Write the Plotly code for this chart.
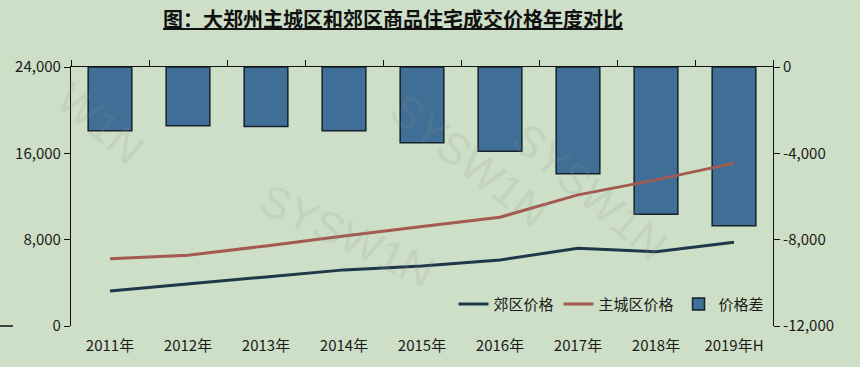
import plotly.graph_objects as go

years = ["2011年", "2012年", "2013年", "2014年", "2015年", "2016年", "2017年", "2018年", "2019年H"]
suburb_price = [3250, 3870, 4550, 5200, 5570, 6120, 7210, 6890, 7760]
core_price = [6240, 6560, 7420, 8350, 9210, 10080, 12150, 13540, 15090]
price_gap = [-2950, -2720, -2760, -2950, -3510, -3900, -4950, -6820, -7350]

left_ticks = [0, 8000, 16000, 24000]
right_ticks = [0, -4000, -8000, -12000]

BG = "#cedfc7"
FONT = "Noto Sans CJK SC"
TXT = "#1a1a1a"

fig = go.Figure()

fig.add_trace(go.Bar(
    x=years, y=price_gap, name="价格差", xaxis="x", yaxis="y",
    width=0.56,
    marker=dict(color="#3f6e96", line=dict(color="#17222c", width=1.5)),
))
fig.add_trace(go.Scatter(
    x=years, y=suburb_price, name="郊区价格", mode="lines", xaxis="x2", yaxis="y2",
    line=dict(color="#1f3848", width=3),
))
fig.add_trace(go.Scatter(
    x=years, y=core_price, name="主城区价格", mode="lines", xaxis="x2", yaxis="y2",
    line=dict(color="#a35a50", width=3),
))

fig.data[0].legendrank = 3
fig.data[1].legendrank = 1
fig.data[2].legendrank = 2

fig.update_layout(
    width=860, height=367,
    margin=dict(l=71, r=87, t=67, b=41),
    paper_bgcolor=BG, plot_bgcolor=BG,
    font=dict(family=FONT, size=15, color=TXT),
    showlegend=True,
    title=dict(
        text="<u><b>图：大郑州主城区和郊区商品住宅成交价格年度对比</b></u>",
        x=393/860, xanchor="center", xref="container",
        y=1 - 20/367, yanchor="middle", yref="container",
        font=dict(family=FONT, size=20, color="#111111"),
    ),
    legend=dict(
        orientation="h", x=0.995, xanchor="right", y=0.02, yanchor="bottom",
        bgcolor="rgba(0,0,0,0)", font=dict(size=15, color=TXT),
        itemwidth=30, traceorder="normal",
    ),
    xaxis=dict(
        type="category", categoryarray=years, side="top", anchor="y",
        showline=True, linecolor="#111111", linewidth=1.2,
        ticks="outside", tickson="boundaries", ticklen=6, tickcolor="#111111",
        showticklabels=False, showgrid=False, zeroline=False,
        range=[-0.5, 8.5],
    ),
    xaxis2=dict(
        type="category", categoryarray=years, overlaying="x", side="bottom", anchor="y2",
        showline=False, ticks="", showgrid=False, zeroline=False,
        range=[-0.5, 8.5], tickfont=dict(size=15, color=TXT),
        ticklabelstandoff=9,
    ),
    yaxis=dict(
        side="right", range=[-12000, 0], tickvals=right_ticks,
        ticktext=[f"{v:,}" for v in right_ticks],
        showline=True, linecolor="#111111", linewidth=1.2,
        ticks="outside", ticklen=6, tickcolor="#111111",
        showgrid=False, zeroline=False, tickfont=dict(size=15, color=TXT),
    ),
    yaxis2=dict(
        side="left", overlaying="y", range=[0, 24000], tickvals=left_ticks,
        ticktext=[f"{v:,}" for v in left_ticks],
        showline=True, linecolor="#111111", linewidth=1.2,
        ticks="outside", ticklen=6, tickcolor="#111111",
        showgrid=False, zeroline=False, tickfont=dict(size=15, color=TXT),
    ),
)

# faint watermarks (container pixel centres, converted to paper coords)
wm = [
    (45, 70, 40, "W1N"),
    (250, 300, 25, "SYSW1N"),
    (470, 160, 38, "SYSW1N"),
    (680, 110, 40, "SYSW1N"),
]
for px, py, ang, t in wm:
    fig.add_annotation(
        x=(px - 71) / 702, y=(326 - py) / 259, xref="paper", yref="paper",
        text=t, showarrow=False, textangle=ang,
        font=dict(family="Liberation Sans", size=44, color="rgba(140,150,140,0.18)"),
    )

fig.add_shape(type="line", xref="paper", yref="paper",
              x0=(0 - 71)/702, x1=(13 - 71)/702, y0=0, y1=0,
              line=dict(color="#111111", width=1.5))

fig.write_html("out.html")
